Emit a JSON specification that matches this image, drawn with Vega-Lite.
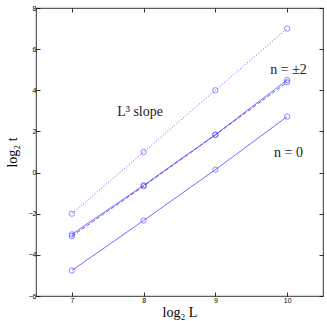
{
  "$schema": "https://vega.github.io/schema/vega-lite/v6.json",
  "width": 287,
  "height": 288,
  "autosize": "none",
  "padding": {"left": 36, "top": 8, "right": 4, "bottom": 25},
  "background": "white",
  "config": {
    "view": {"stroke": "black", "strokeWidth": 0.8},
    "axis": {
      "grid": false,
      "domain": false,
      "tickColor": "black",
      "tickSize": -4,
      "tickWidth": 0.8,
      "labelFont": "Liberation Sans",
      "labelFontSize": 7,
      "labelColor": "black",
      "titleFont": "Liberation Serif",
      "titleFontSize": 14,
      "titleFontWeight": "normal",
      "titleColor": "black"
    }
  },
  "datasets": {
    "pts": [
      {"series": "L3", "x": 7, "y": -2.0},
      {"series": "L3", "x": 8, "y": 1.0},
      {"series": "L3", "x": 9, "y": 4.0},
      {"series": "L3", "x": 10, "y": 7.0},
      {"series": "n2a", "x": 7, "y": -3.0},
      {"series": "n2a", "x": 8, "y": -0.62},
      {"series": "n2a", "x": 9, "y": 1.84},
      {"series": "n2a", "x": 10, "y": 4.5},
      {"series": "n2b", "x": 7, "y": -3.09},
      {"series": "n2b", "x": 8, "y": -0.66},
      {"series": "n2b", "x": 9, "y": 1.83},
      {"series": "n2b", "x": 10, "y": 4.39},
      {"series": "n0", "x": 7, "y": -4.76},
      {"series": "n0", "x": 8, "y": -2.33},
      {"series": "n0", "x": 9, "y": 0.14},
      {"series": "n0", "x": 10, "y": 2.72}
    ],
    "labels": [
      {"x": 7.95, "y": 2.96, "text": "L³ slope"},
      {"x": 10.02, "y": 4.97, "text": "n  =  ±2"},
      {"x": 10.02, "y": 0.93, "text": "n  =  0"}
    ]
  },
  "layer": [
    {
      "data": {"name": "pts"},
      "mark": {"type": "line", "color": "#3333ff", "strokeWidth": 0.8},
      "encoding": {
        "x": {"field": "x", "type": "quantitative", "scale": {"domain": [6.5, 10.5], "nice": false},
              "axis": {"values": [7, 8, 9, 10], "title": "log₂ L", "labelPadding": 4, "titlePadding": 2}},
        "y": {"field": "y", "type": "quantitative", "scale": {"domain": [-6, 8], "nice": false},
              "axis": {"values": [-6, -4, -2, 0, 2, 4, 6, 8], "title": "log₂ t", "labelPadding": 4, "titlePadding": 9}},
        "detail": {"field": "series"},
        "strokeDash": {"field": "series", "type": "nominal",
          "scale": {"domain": ["L3", "n2a", "n2b", "n0"], "range": [[1, 2], [1, 0], [4, 2], [1, 0]]},
          "legend": null}
      }
    },
    {
      "data": {"name": "pts"},
      "mark": {"type": "point", "shape": "circle", "filled": false, "color": "#3333ff", "size": 28, "strokeWidth": 0.8},
      "encoding": {
        "x": {"field": "x", "type": "quantitative", "axis": null},
        "y": {"field": "y", "type": "quantitative", "axis": null}
      }
    },
    {
      "data": {"name": "labels"},
      "mark": {"type": "text", "font": "Liberation Serif", "fontSize": 14, "color": "#222222", "align": "center", "baseline": "middle"},
      "encoding": {
        "x": {"field": "x", "type": "quantitative", "axis": null},
        "y": {"field": "y", "type": "quantitative", "axis": null},
        "text": {"field": "text"}
      }
    },
    {
      "data": {"name": "pts"},
      "mark": {"type": "point", "opacity": 0},
      "encoding": {
        "x": {"field": "x", "type": "quantitative",
              "axis": {"orient": "top", "values": [7, 8, 9, 10], "labels": false, "title": null}},
        "y": {"field": "y", "type": "quantitative",
              "axis": {"orient": "right", "values": [-6, -4, -2, 0, 2, 4, 6, 8], "labels": false, "title": null}}
      }
    }
  ],
  "resolve": {"axis": {"x": "independent", "y": "independent"}}
}
